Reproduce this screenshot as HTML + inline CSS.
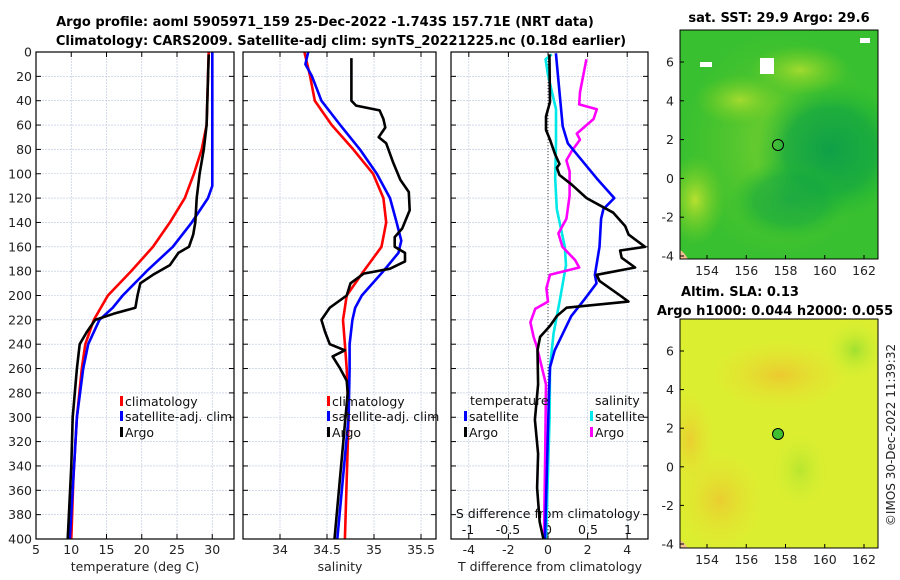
<!DOCTYPE html>
<html><head><meta charset="utf-8"><style>
body{margin:0;background:#fff;}
svg{display:block;font-family:"DejaVu Sans","Liberation Sans",sans-serif;}
</style></head><body>
<svg id="fig" width="900" height="580" xmlns="http://www.w3.org/2000/svg">
<defs>
<radialGradient id="sstBlue" cx="0.5" cy="0.5" r="0.5"><stop offset="0" stop-color="#0fa048"/><stop offset="0.6" stop-color="#14a840" stop-opacity="0.8"/><stop offset="1" stop-color="#20b830" stop-opacity="0"/></radialGradient>
<radialGradient id="sstYel" cx="0.5" cy="0.5" r="0.5"><stop offset="0" stop-color="#b8e030"/><stop offset="1" stop-color="#80d020" stop-opacity="0"/></radialGradient>
<radialGradient id="slaOr" cx="0.5" cy="0.5" r="0.5"><stop offset="0" stop-color="#f0c030"/><stop offset="1" stop-color="#e8e030" stop-opacity="0"/></radialGradient>
<radialGradient id="slaGr" cx="0.5" cy="0.5" r="0.5"><stop offset="0" stop-color="#a0e030"/><stop offset="1" stop-color="#d0f030" stop-opacity="0"/></radialGradient>
<clipPath id="clipTop"><rect x="680" y="30" width="198" height="229"/></clipPath>
<clipPath id="clipBot"><rect x="680" y="319" width="198" height="229"/></clipPath>
</defs>
<g id="titles" fill="#000" font-weight="bold" font-size="13">
<text x="325" y="26" text-anchor="middle">Argo profile: aoml 5905971_159 25-Dec-2022 -1.743S 157.71E (NRT data)</text>
<text x="341" y="45" text-anchor="middle">Climatology: CARS2009. Satellite-adj clim: synTS_20221225.nc (0.18d earlier)</text>
</g>
<g id="p1"></g><g id="p2"></g><g id="p3"></g>
<g id="maps">
<g>
<g clip-path="url(#clipTop)">
<rect x="680" y="30" width="198" height="229" fill="#38c030"/>
<rect x="680" y="30" width="198" height="229" fill="url(#sstYel)" opacity="0.5"/>
<ellipse cx="830" cy="150" rx="75" ry="70" fill="url(#sstBlue)"/>
<ellipse cx="790" cy="200" rx="60" ry="40" fill="url(#sstBlue)" opacity="0.7"/>
<ellipse cx="695" cy="200" rx="30" ry="45" fill="url(#sstYel)"/>
<ellipse cx="740" cy="100" rx="45" ry="25" fill="url(#sstYel)" opacity="0.8"/>
<ellipse cx="800" cy="70" rx="50" ry="25" fill="url(#sstYel)" opacity="0.8"/>
<rect x="760" y="58" width="14" height="16" fill="#fff"/><rect x="700" y="62" width="12" height="5" fill="#fff"/><rect x="860" y="38" width="10" height="5" fill="#fff"/>
<path d="M680 259 L680 250 Q684 252 688 259Z" fill="#f0c090"/>
</g>
<circle cx="778" cy="145" r="5.5" fill="none" stroke="#000" stroke-width="1"/>
<rect x="680" y="30" width="198" height="229" fill="none" stroke="#000" stroke-width="1"/>
</g>
<g>
<g clip-path="url(#clipBot)">
<rect x="680" y="319" width="198" height="229" fill="#dcee30"/>
<ellipse cx="780" cy="375" rx="70" ry="35" fill="url(#slaOr)" opacity="0.8"/>
<ellipse cx="720" cy="500" rx="45" ry="50" fill="url(#slaOr)" opacity="0.7"/>
<ellipse cx="690" cy="440" rx="25" ry="50" fill="url(#slaOr)" opacity="0.7"/>
<ellipse cx="855" cy="350" rx="30" ry="30" fill="url(#slaGr)"/>
<ellipse cx="800" cy="470" rx="30" ry="40" fill="url(#slaGr)" opacity="0.6"/>
<path d="M680 548 L680 540 Q684 542 688 548Z" fill="#f0c090"/>
</g>
<circle cx="778" cy="434" r="5.5" fill="#40c030" stroke="#000" stroke-width="1"/>
<rect x="680" y="319" width="198" height="229" fill="none" stroke="#000" stroke-width="1"/>
</g>
<g font-weight="bold" font-size="13" fill="#000">
<text x="779" y="22" text-anchor="middle">sat. SST: 29.9 Argo: 29.6</text>
<text x="740" y="296" text-anchor="middle">Altim. SLA: 0.13</text>
<text x="775" y="315" text-anchor="middle">Argo h1000: 0.044 h2000: 0.055</text>
</g>
<text transform="translate(895,435) rotate(-90)" text-anchor="middle" font-size="12" fill="#222">©IMOS 30-Dec-2022 11:39:32</text>
</g>
</svg>
<script>
// ---- data ----
const depthTicks=[0,20,40,60,80,100,120,140,160,180,200,220,240,260,280,300,320,340,360,380,400];
const tTicks=[5,10,15,20,25,30];
const sTicks=[34,34.5,35,35.5];
const dtTicks=[-4,-2,0,2,4];
const dsTicks=[-1,-0.5,0,0.5,1];
const dsTickLabels=["-1","-0.5","0","0.5","1"];

const tClimD=[0,60,80,100,120,140,160,180,200,220,240,260,300,350,400];
const tClimV=[29.5,29.2,28.5,27.4,26.1,24.0,21.6,18.5,15.2,13.2,12.0,11.5,10.8,10.3,10.0];
const tSatD=[0,110,120,140,160,180,200,210,220,240,260,300,400];
const tSatV=[30.0,30.0,29.4,27.1,24.4,20.7,17.3,15.9,14.0,12.4,11.7,10.8,9.8];
const tArgoD=[2,60,80,100,120,140,150,160,165,175,183,190,200,210,215,220,230,240,260,300,340,400];
const tArgoV=[29.5,29.2,28.8,28.2,27.8,27.6,27.3,26.7,25.2,24.0,21.6,19.8,19.4,19.1,16.0,13.4,12.2,11.2,10.8,10.2,10.0,9.5];

const sClimD=[0,10,20,40,60,80,100,120,140,160,180,200,210,220,240,260,300,400];
const sClimV=[34.26,34.29,34.32,34.37,34.55,34.78,34.99,35.10,35.13,35.08,34.89,34.71,34.69,34.67,34.69,34.71,34.73,34.69];
const sSatD=[0,10,20,40,60,80,100,120,140,155,165,180,200,210,220,240,260,300,400];
const sSatV=[34.30,34.27,34.34,34.44,34.64,34.85,35.03,35.17,35.24,35.29,35.26,35.10,34.87,34.80,34.77,34.74,34.74,34.73,34.61];
const sArgoD=[5,40,44,48,55,62,70,75,90,105,115,130,145,152,160,165,172,178,182,190,200,210,220,230,240,245,250,260,270,280,400];
const sArgoV=[34.76,34.76,34.81,35.06,35.10,35.12,35.05,35.13,35.20,35.28,35.37,35.38,35.30,35.22,35.22,35.33,35.33,35.17,34.89,34.75,34.71,34.53,34.44,34.48,34.53,34.69,34.56,34.64,34.71,34.72,34.58];

const dtSatD=[1,19,61,75,104,120,129,137,160,183,190,203,217,231,245,259,280,400];
const dtSatV=[0.4,0.5,0.74,1.0,2.47,3.35,2.8,2.68,2.6,2.37,2.45,1.85,1.17,0.76,0.34,0.1,0.05,-0.15];
const dtArgoD=[2,41,53,64,72,84,92,95,101,109,120,132,143,150,160,163,169,177,183,188,200,205,210,217,225,234,245,273,302,330,358,386,400];
const dtArgoV=[0.07,0.1,-0.1,-0.1,0.1,0.36,0.58,0.45,0.58,1.2,1.95,3.3,3.9,4.07,4.9,3.64,3.72,4.4,2.46,2.6,3.64,4.06,0.94,0.44,0.1,-0.4,-0.53,-0.5,-0.66,-0.5,-0.55,-0.42,-0.23];
const dsSatD=[2,6,19,47,75,104,129,160,175,203,231,259,300,400];
const dsSatV=[0.046,-0.03,0.0,0.1,0.1,0.09,0.11,0.21,0.225,0.15,0.07,0.025,0.02,-0.025];
const dsArgoD=[6,33,43,47,55,67,72,81,89,98,118,137,149,160,171,177,183,194,205,211,222,234,242,273,330,400];
const dsArgoV=[0.48,0.4,0.39,0.61,0.57,0.36,0.4,0.3,0.23,0.27,0.27,0.23,0.13,0.18,0.34,0.39,0.025,-0.02,0.0,-0.16,-0.22,-0.18,-0.14,-0.025,-0.035,-0.05];

const mapLonTicks=[154,156,158,160,162];
const mapLatTicks=[6,4,2,0,-2,-4];

// ---- helpers ----
const NS="http://www.w3.org/2000/svg";
function mk(parent,tag,attrs){const e=document.createElementNS(NS,tag);for(const k in attrs)e.setAttribute(k,attrs[k]);parent.appendChild(e);return e;}
const Y0=52,Y1=539;
const yD=d=>Y0+(Y1-Y0)*d/400;

function panel(g,x0,x1,xf,ticks,labels,showDepth,name){
  const bg=mk(g,'rect',{x:x0,y:Y0,width:x1-x0,height:Y1-Y0,fill:'#fff'});
  
  
  depthTicks.forEach(d=>{
    const l=mk(g,'line',{x1:x0,x2:x1,y1:yD(d),y2:yD(d),stroke:'#b8c4dc','stroke-width':0.6,'stroke-dasharray':'2,1'});
    
    
    mk(g,'line',{x1:x0,x2:x0+5,y1:yD(d),y2:yD(d),stroke:'#000','stroke-width':1});
    mk(g,'line',{x1:x1-5,x2:x1,y1:yD(d),y2:yD(d),stroke:'#000','stroke-width':1});
    if(showDepth){const t=mk(g,'text',{x:x0-4,y:yD(d)+4.5,'text-anchor':'end','font-size':12.5,fill:'#222'});t.textContent=d;
      
      }
  });
  ticks.forEach((v,i)=>{
    const x=xf(v);
    const l=mk(g,'line',{x1:x,x2:x,y1:Y0,y2:Y1,stroke:'#b8c4dc','stroke-width':0.6,'stroke-dasharray':'2,1'});
    
    
    mk(g,'line',{x1:x,x2:x,y1:Y1-5,y2:Y1,stroke:'#000'});
    mk(g,'line',{x1:x,x2:x,y1:Y0,y2:Y0+5,stroke:'#000'});
    const t=mk(g,'text',{x:x,y:Y1+15,'text-anchor':'middle','font-size':12.5,fill:'#222'});t.textContent=labels[i];
    
    
  });
}
function frame(g,x0,x1,name){const r=mk(g,'rect',{x:x0,y:Y0,width:x1-x0,height:Y1-Y0,fill:'none',stroke:'#000','stroke-width':1.2});
  
  }
function line(g,D,V,xf,color,name){
  const pts=D.map((d,i)=>xf(V[i]).toFixed(1)+','+yD(d).toFixed(1)).join(' ');
  const p=mk(g,'polyline',{points:pts,fill:'none',stroke:color,'stroke-width':2.6,'stroke-linejoin':'round'});
  
  
}
function legend(g,x,y,color,label,name){
  mk(g,'rect',{x:x,y:y-10,width:3,height:10,fill:color});
  const t=mk(g,'text',{x:x+5,y:y,'font-size':12.5,fill:'#111'});t.textContent=label;
  
  
}

// panel 1
const p1=document.getElementById('p1');


const xT=v=>36+(v-5)*7.05;
panel(p1,36,234,xT,tTicks,tTicks,true,'temperature');
line(p1,tClimD,tClimV,xT,'#ff0000','temp-climatology-line');
line(p1,tSatD,tSatV,xT,'#0000ff','temp-satellite-line');
line(p1,tArgoD,tArgoV,xT,'#000','temp-argo-line');
frame(p1,36,234,'temperature');
legend(p1,120,406,'#ff0000','climatology','legend-climatology');
legend(p1,120,421,'#0000ff','satellite-adj. clim','legend-satellite');
legend(p1,120,437,'#000','Argo','legend-argo');
{const t=mk(p1,'text',{x:135,y:571,'text-anchor':'middle','font-size':12.5,fill:'#222'});t.textContent='temperature (deg C)';

}

// panel 2
const p2=document.getElementById('p2');


const xS=v=>280+(v-34)*94;
panel(p2,243,436,xS,sTicks,sTicks,false,'salinity');
line(p2,sClimD,sClimV,xS,'#ff0000','sal-climatology-line');
line(p2,sSatD,sSatV,xS,'#0000ff','sal-satellite-line');
line(p2,sArgoD,sArgoV,xS,'#000','sal-argo-line');
frame(p2,243,436,'salinity');
legend(p2,327,406,'#ff0000','climatology','legend-sal-climatology');
legend(p2,327,421,'#0000ff','satellite-adj. clim','legend-sal-satellite');
legend(p2,327,437,'#000','Argo','legend-sal-argo');
{const t=mk(p2,'text',{x:340,y:571,'text-anchor':'middle','font-size':12.5,fill:'#222'});t.textContent='salinity';

}

// panel 3
const p3=document.getElementById('p3');


const xdT=v=>548+v*19.8, xdS=v=>548+v*80;
panel(p3,451,648,xdT,dtTicks,dtTicks,false,'difference');
{const z=mk(p3,'line',{x1:548,x2:548,y1:Y0,y2:Y1,stroke:'#444','stroke-width':1,'stroke-dasharray':'1,2'});

}
dsTicks.forEach((v,i)=>{const t=mk(p3,'text',{x:xdS(v),y:534,'text-anchor':'middle','font-size':12.5,fill:'#111'});t.textContent=dsTickLabels[i];
  
  });
{const t=mk(p3,'text',{x:548,y:518,'text-anchor':'middle','font-size':12.5,fill:'#111'});t.textContent='S difference from climatology';

}
line(p3,dsSatD,dsSatV,xdS,'#00e8e8','s-diff-satellite-line');
line(p3,dsArgoD,dsArgoV,xdS,'#ff00ff','s-diff-argo-line');
line(p3,dtSatD,dtSatV,xdT,'#0000ff','t-diff-satellite-line');
line(p3,dtArgoD,dtArgoV,xdT,'#000','t-diff-argo-line');
frame(p3,451,648,'difference');
{const t=mk(p3,'text',{x:470,y:405,'font-size':12.5,fill:'#111'});t.textContent='temperature';


const t2=mk(p3,'text',{x:595,y:405,'font-size':12.5,fill:'#111'});t2.textContent='salinity';

}
legend(p3,464,421,'#0000ff','satellite','legend-t-satellite');
legend(p3,464,437,'#000','Argo','legend-t-argo');
legend(p3,590,421,'#00e8e8','satellite','legend-s-satellite');
legend(p3,590,437,'#ff00ff','Argo','legend-s-argo');
{const t=mk(p3,'text',{x:550,y:571,'text-anchor':'middle','font-size':12.5,fill:'#222'});t.textContent='T difference from climatology';

}

// map ticks
const maps=document.getElementById('maps');
[[30,259,62,256],[319,548,351,544]].forEach(([top,bot,y6,ym4],k)=>{
  const yLat=v=>y6+(v-6)*(ym4-y6)/(-10);
  const xLon=v=>707+(v-154)*19.625;
  mapLonTicks.forEach(v=>{const t=mk(maps,'text',{x:xLon(v),y:bot+16,'text-anchor':'middle','font-size':12.5,fill:'#222'});t.textContent=v;
    
    
    mk(maps,'line',{x1:xLon(v),x2:xLon(v),y1:bot-4,y2:bot,stroke:'#000'});});
  mapLatTicks.forEach(v=>{const t=mk(maps,'text',{x:674,y:yLat(v)+4.5,'text-anchor':'end','font-size':12.5,fill:'#222'});t.textContent=v;
    
    
    mk(maps,'line',{x1:680,x2:684,y1:yLat(v),y2:yLat(v),stroke:'#000'});});
});
</script>
</body></html>
